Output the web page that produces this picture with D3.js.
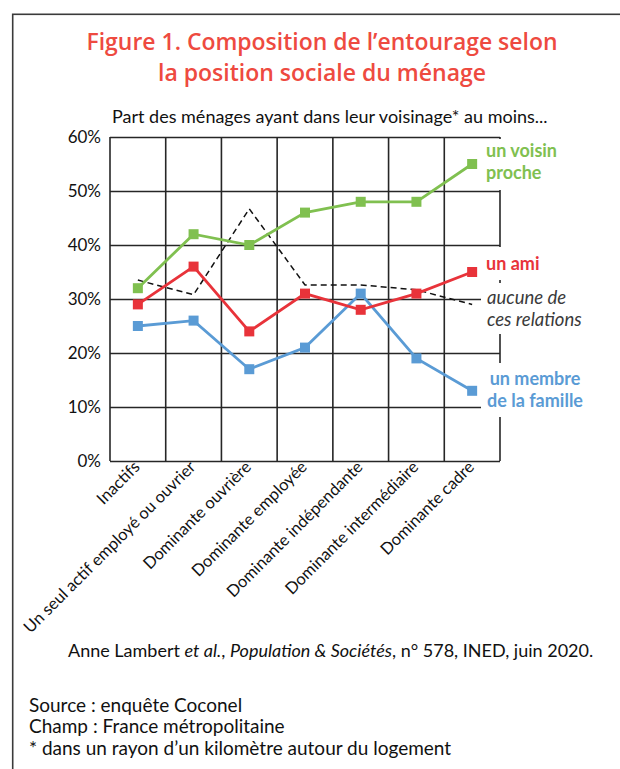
<!DOCTYPE html>
<html>
<head>
<meta charset="utf-8">
<script src="https://cdn.jsdelivr.net/npm/d3@7"></script>
<style>
  body { margin: 0; background: #fff; }
  svg { display: block; }
  .grid line, .grid path { stroke: #262626; stroke-width: 1.6; }
</style>
</head>
<body>
<div id="chart"></div>
<script>
// data (percent of households)
var categories = ["Inactifs", "Un seul actif employé ou ouvrier", "Dominante ouvrière",
  "Dominante employée", "Dominante indépendante", "Dominante intermédiaire", "Dominante cadre"];
var voisin  = [32, 42, 40, 46, 48, 48, 55];
var ami     = [29, 36, 24, 31, 28, 31, 35];
var famille = [25, 26, 17, 21, 31, 19, 13];
var aucune  = [33.5, 30.8, 46.7, 32.6, 32.6, 31.7, 29];
var yTicks  = [0, 10, 20, 30, 40, 50, 60];

var W = 620, H = 769;
var margin = {top: 137, left: 110},
    width  = 500 - 110,
    height = 461 - 137;
var font = "Lato, sans-serif";

var svg = d3.select("#chart").append("svg")
    .attr("width", W)
    .attr("height", H);

// frame round the figure (runs off the page on right and bottom)
svg.append("rect")
    .attr("x", 12.7).attr("y", 14.3)
    .attr("width", 800).attr("height", 900)
    .attr("fill", "none")
    .attr("stroke", "#3a3a3a")
    .attr("stroke-width", 1.6);

// title
var titleLines = [
  {text: "Figure 1. Composition de l\u2019entourage selon", y: 49.5, w: 471},
  {text: "la position sociale du ménage", y: 81, w: 328}
];
titleLines.forEach(function (t) {
  var el = svg.append("text")
      .attr("x", 322).attr("y", t.y)
      .attr("text-anchor", "middle")
      .attr("fill", "#ee4a40")
      .style("font-family", "'Open Sans', sans-serif")
      .style("font-weight", 600)
      .style("font-size", "24px")
      .text(t.text);
  if (el.node().getComputedTextLength() > t.w) {
    el.attr("textLength", t.w).attr("lengthAdjust", "spacingAndGlyphs");
  }
});

svg.append("text")
    .attr("x", 112).attr("y", 123.3)
    .attr("fill", "#111")
    .style("font-family", font)
    .style("font-size", "18px")
    .text("Part des ménages ayant dans leur voisinage* au moins...");

var g = svg.append("g")
    .attr("transform", "translate(" + margin.left + "," + margin.top + ")");

var x = d3.scaleBand()
    .domain(categories)
    .range([0, width])
    .padding(0);

var y = d3.scaleLinear()
    .domain([0, 60])
    .range([height, 0]);

// horizontal gridlines + y labels
var yAxis = d3.axisLeft(y)
    .tickValues(yTicks)
    .tickSize(-width)
    .tickPadding(9)
    .tickFormat(function (d) { return d + "%"; });

var ya = g.append("g")
    .attr("class", "grid")
    .call(yAxis);
ya.select(".domain").remove();
ya.selectAll("text")
    .attr("fill", "#111")
    .style("font-family", font)
    .style("font-size", "17px");

// vertical gridlines at band edges
var edges = categories.map(function (c) { return x(c); }).concat([width]);
g.append("g").attr("class", "grid")
  .selectAll("line")
  .data(edges)
  .enter().append("line")
    .attr("x1", function (d) { return d; })
    .attr("x2", function (d) { return d; })
    .attr("y1", 0)
    .attr("y2", height);

// x labels, rotated
g.append("g")
  .selectAll("text")
  .data(categories)
  .enter().append("text")
    .attr("transform", function (d) {
      return "translate(" + (x(d) + x.bandwidth() / 2 + 3) + "," + (height + 7) + ") rotate(-45)";
    })
    .attr("text-anchor", "end")
    .attr("fill", "#111")
    .style("font-family", font)
    .style("font-size", "16.5px")
    .text(function (d) { return d; });

var cx = function (d, i) { return x(categories[i]) + x.bandwidth() / 2; };
var line = d3.line()
    .x(cx)
    .y(function (d) { return y(d); });

// dashed "aucune" line
g.append("path")
    .datum(aucune)
    .attr("d", line)
    .attr("fill", "none")
    .attr("stroke", "#111")
    .attr("stroke-width", 1.5)
    .attr("stroke-dasharray", "6,4");

var series = [
  {name: "famille", values: famille, color: "#5a9bd5"},
  {name: "ami", values: ami, color: "#e8333a"},
  {name: "voisin", values: voisin, color: "#80c050"}
];

series.forEach(function (s) {
  g.append("path")
      .datum(s.values)
      .attr("d", line)
      .attr("fill", "none")
      .attr("stroke", s.color)
      .attr("stroke-width", 2.8);
  g.selectAll("rect.m-" + s.name)
    .data(s.values)
    .enter().append("rect")
      .attr("class", "m-" + s.name)
      .attr("x", function (d, i) { return cx(d, i) - 5; })
      .attr("y", function (d) { return y(d) - 5; })
      .attr("width", 10)
      .attr("height", 10)
      .attr("fill", s.color);
});

// series labels on the right, each with a white box over the grid
var labels = [
  {lines: ["un voisin", "proche"], y: 157, color: "#80c050", weight: 700, style: "normal", anchor: "start", x: 486, box: [139, 190]},
  {lines: ["un ami"], y: 270, color: "#e8333a", weight: 700, style: "normal", anchor: "start", x: 486, box: [247, 280]},
  {lines: ["aucune de", "ces relations"], y: 304, color: "#3a3a3a", weight: 400, style: "italic", anchor: "start", x: 487, box: [283, 334]},
  {lines: ["un membre", "de la famille"], y: 385, color: "#5a9bd5", weight: 700, style: "normal", anchor: "middle", x: 535, box: [363, 417]}
];

labels.forEach(function (l) {
  var grp = svg.append("g");
  var box = grp.append("rect").attr("fill", "#fff");
  var t = grp.append("text")
      .attr("fill", l.color)
      .attr("text-anchor", l.anchor)
      .style("font-family", font)
      .style("font-size", l.style === "italic" ? "18.5px" : "18px")
      .style("font-weight", l.weight)
      .style("font-style", l.style);
  l.lines.forEach(function (s, i) {
    t.append("tspan")
        .attr("x", l.x)
        .attr("y", l.y + i * 21.5)
        .text(s);
  });
  var bb = t.node().getBBox();
  box.attr("x", 481)
     .attr("y", l.box[0])
     .attr("width", Math.max(bb.x + bb.width + 6 - 481, 30))
     .attr("height", l.box[1] - l.box[0]);
});

// source notes
var cite = svg.append("text")
    .attr("x", 68).attr("y", 656.7)
    .attr("fill", "#111")
    .style("font-family", font)
    .style("font-size", "18px");
cite.append("tspan").text("Anne Lambert ");
cite.append("tspan").style("font-style", "italic").text("et al.");
cite.append("tspan").text(", ");
cite.append("tspan").style("font-style", "italic").text("Population & Sociétés");
cite.append("tspan").text(", n° 578, INED, juin 2020.");

var notes = ["Source : enquête Coconel", "Champ : France métropolitaine",
  "* dans un rayon d\u2019un kilomètre autour du logement"];
svg.append("g").selectAll("text")
  .data(notes)
  .enter().append("text")
    .attr("x", 29)
    .attr("y", function (d, i) { return 711.7 + i * 21.7; })
    .attr("fill", "#111")
    .style("font-family", font)
    .style("font-size", "19px")
    .text(function (d) { return d; });
</script>
</body>
</html>
